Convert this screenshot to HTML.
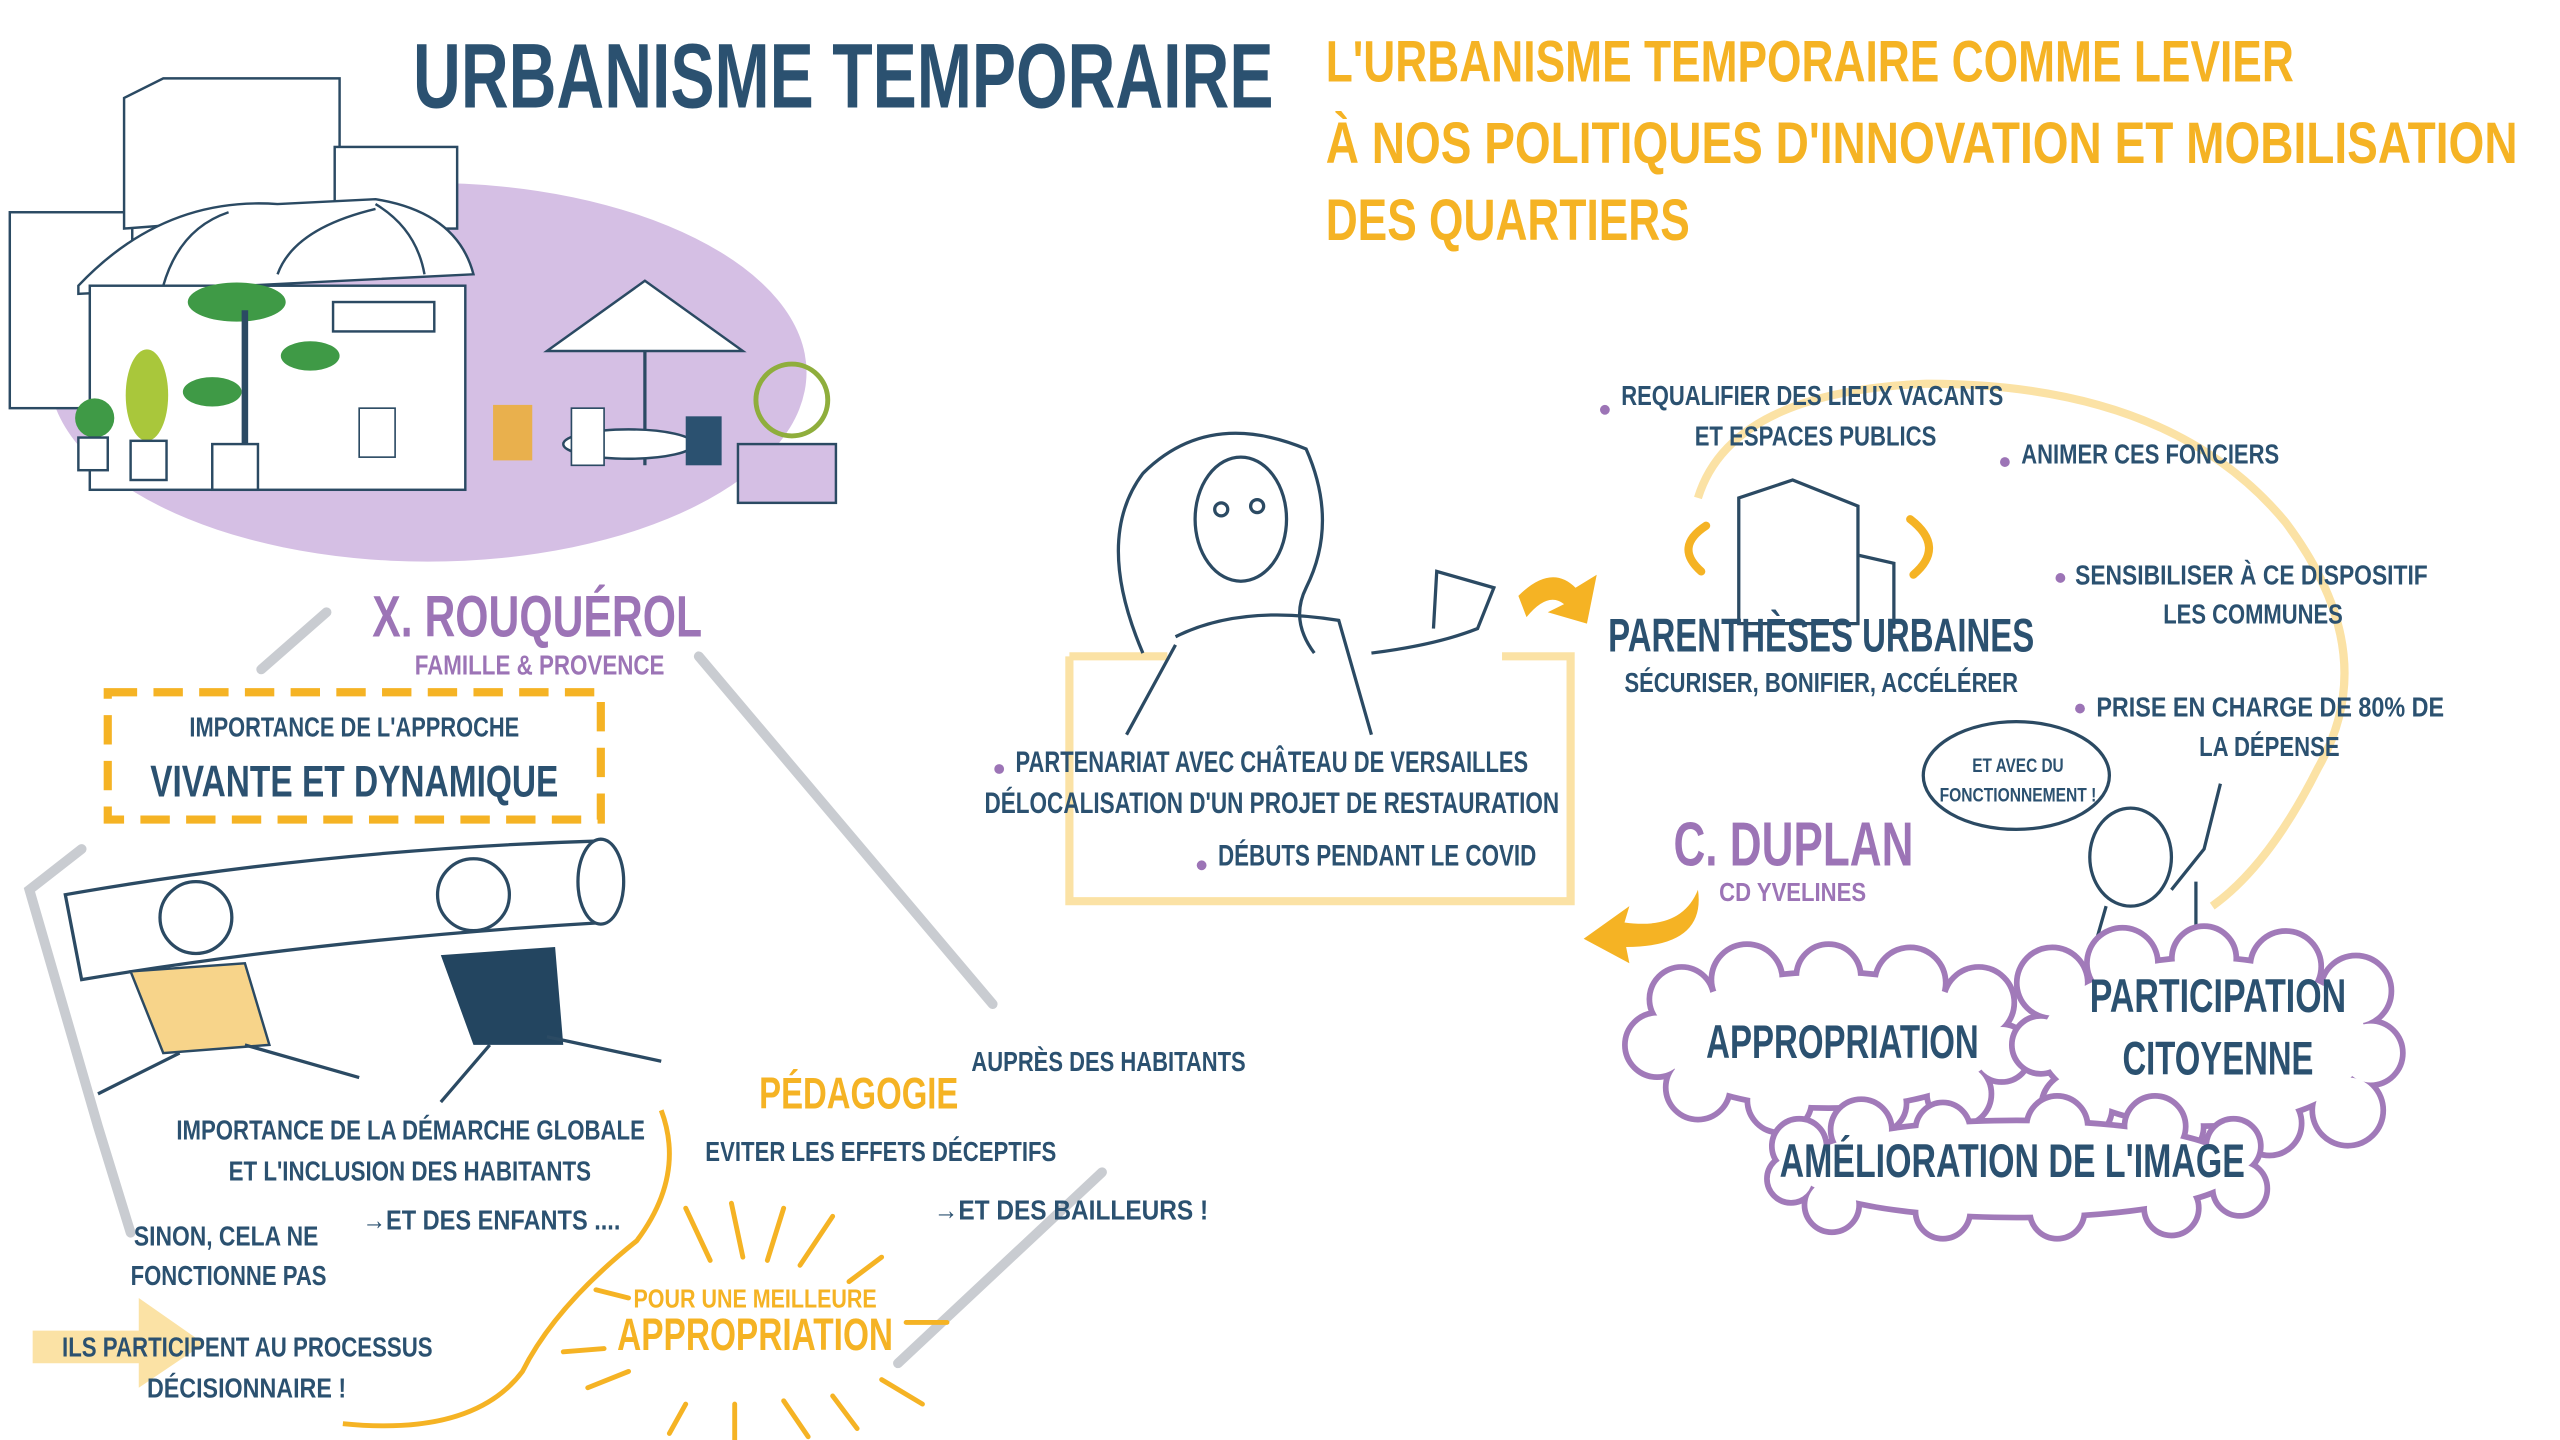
<!DOCTYPE html>
<html><head><meta charset="utf-8"><style>
html,body{margin:0;padding:0;background:#fff;}
svg{display:block}
text{font-family:"Liberation Sans Narrow","Liberation Sans",sans-serif;font-weight:bold;}
.b{fill:#2b5170}.o{fill:#f5b324}.p{fill:#9c74b6}
.cs{stroke:#a17ab9;stroke-width:7;fill:#a17ab9}.cw{fill:#fff}
</style></head><body>
<svg width="2560" height="1440" viewBox="0 0 1568 882" xmlns="http://www.w3.org/2000/svg">
<defs>
<g id="c1"><ellipse cx="1120" cy="637" rx="105" ry="40"/><circle cx="1015" cy="640" r="18"/><circle cx="1030" cy="612" r="18"/><circle cx="1070" cy="600" r="20"/><circle cx="1120" cy="598" r="18"/><circle cx="1170" cy="602" r="20"/><circle cx="1212" cy="614" r="20"/><circle cx="1226" cy="645" r="16"/><circle cx="1200" cy="670" r="18"/><circle cx="1150" cy="676" r="16"/><circle cx="1090" cy="674" r="18"/><circle cx="1040" cy="666" r="18"/></g>
<g id="c2"><ellipse cx="1350" cy="638" rx="100" ry="50"/><circle cx="1257" cy="602" r="20"/><circle cx="1300" cy="590" r="20"/><circle cx="1350" cy="587" r="18"/><circle cx="1400" cy="592" r="20"/><circle cx="1443" cy="607" r="20"/><circle cx="1452" cy="645" r="18"/><circle cx="1438" cy="680" r="20"/><circle cx="1390" cy="688" r="18"/><circle cx="1330" cy="690" r="18"/><circle cx="1272" cy="678" r="20"/><circle cx="1250" cy="640" r="16"/></g>
<g id="c3"><ellipse cx="1235" cy="716" rx="135" ry="28"/><circle cx="1102" cy="702" r="15"/><circle cx="1140" cy="692" r="17"/><circle cx="1190" cy="692" r="15"/><circle cx="1260" cy="690" r="17"/><circle cx="1320" cy="690" r="17"/><circle cx="1368" cy="702" r="15"/><circle cx="1372" cy="728" r="15"/><circle cx="1330" cy="740" r="15"/><circle cx="1260" cy="742" r="15"/><circle cx="1190" cy="742" r="15"/><circle cx="1122" cy="738" r="15"/><circle cx="1097" cy="722" r="13"/></g>
</defs>
<rect width="1568" height="882" fill="#fff"/>
<!-- top-left illustration -->
<ellipse cx="262" cy="228" rx="232" ry="116" fill="#d5bfe4"/>
<g fill="#fff" stroke="#2b4a63" stroke-width="1.5">
<rect x="6" y="130" width="75" height="120"/>
<path d="M76 60 L100 48 L208 48 L208 130 L76 140 Z"/>
<rect x="205" y="90" width="75" height="50"/>
<path d="M48 175 Q100 120 170 125 L230 122 Q280 130 290 168 L48 180 Z"/>
<rect x="55" y="175" width="230" height="125"/>
</g>
<g fill="none" stroke="#2b4a63" stroke-width="1.5">
<path d="M100 175 Q110 140 140 130 M170 168 Q180 140 230 128 M260 168 Q255 140 230 125"/>
<rect x="204" y="185" width="62" height="18"/>
</g>
<g fill="#3f9a46"><ellipse cx="145" cy="185" rx="30" ry="12"/><ellipse cx="190" cy="218" rx="18" ry="9"/><ellipse cx="130" cy="240" rx="18" ry="9"/></g>
<path d="M150 190 L150 275" stroke="#2b4a63" stroke-width="4"/>
<ellipse cx="90" cy="242" rx="13" ry="28" fill="#a9c73b"/>
<circle cx="58" cy="256" r="12" fill="#3f9a46"/>
<g fill="#fff" stroke="#2b4a63" stroke-width="1.5"><rect x="48" y="268" width="18" height="20"/><rect x="80" y="270" width="22" height="24"/><rect x="130" y="272" width="28" height="28"/></g>
<path d="M335 215 L395 172 L455 215 Z" fill="#fff" stroke="#2b4a63" stroke-width="1.5"/>
<path d="M395 215 L395 285" stroke="#2b4a63" stroke-width="2"/>
<ellipse cx="385" cy="272" rx="40" ry="9" fill="#fff" stroke="#2b4a63" stroke-width="1.5"/>
<rect x="302" y="248" width="24" height="34" fill="#e9b04d"/>
<rect x="350" y="250" width="20" height="35" fill="#fff" stroke="#2b4a63"/>
<rect x="420" y="255" width="22" height="30" fill="#2b5170"/>
<rect x="220" y="250" width="22" height="30" fill="#fff" stroke="#2b4a63"/>
<rect x="452" y="272" width="60" height="36" fill="#d5bfe4" stroke="#2b4a63" stroke-width="1.5"/>
<circle cx="485" cy="245" r="22" fill="none" stroke="#8fae3c" stroke-width="3"/>
<!-- title -->
<text x="253" y="66" class="b" font-size="56" textLength="527" lengthAdjust="spacingAndGlyphs">URBANISME TEMPORAIRE</text>
<text x="812" y="50" class="o" font-size="36" textLength="593" lengthAdjust="spacingAndGlyphs">L'URBANISME TEMPORAIRE COMME LEVIER</text>
<text x="812" y="100" class="o" font-size="36" textLength="730" lengthAdjust="spacingAndGlyphs">À NOS POLITIQUES D'INNOVATION ET MOBILISATION</text>
<text x="812" y="147" class="o" font-size="36" textLength="223" lengthAdjust="spacingAndGlyphs">DES QUARTIERS</text>
<!-- left section -->
<g stroke="#c9ccd1" stroke-width="6" fill="none" stroke-linecap="round">
<path d="M200 375 L160 410"/><path d="M428 402 L608 615"/>
<path d="M50 520 L18 545 L60 690 L80 755"/><path d="M675 718 L550 835"/>
</g>
<text x="228" y="390" class="p" font-size="36" textLength="202" lengthAdjust="spacingAndGlyphs">X. ROUQUÉROL</text>
<text x="254" y="413" class="p" font-size="17" textLength="153" lengthAdjust="spacingAndGlyphs">FAMILLE &amp; PROVENCE</text>
<rect x="66" y="424" width="302" height="78" fill="none" stroke="#f5b324" stroke-width="5" stroke-dasharray="18 10"/>
<text x="116" y="451" class="b" font-size="17" textLength="202" lengthAdjust="spacingAndGlyphs">IMPORTANCE DE L'APPROCHE</text>
<text x="92" y="488" class="b" font-size="27" textLength="250" lengthAdjust="spacingAndGlyphs">VIVANTE ET DYNAMIQUE</text>
<!-- log carriers -->
<path d="M40 548 Q200 520 370 515 Q385 540 370 565 Q200 575 50 600 Z" fill="#fff" stroke="#2b4a63" stroke-width="2"/>
<ellipse cx="368" cy="540" rx="14" ry="26" fill="#fff" stroke="#2b4a63" stroke-width="2"/>
<path d="M80 595 L150 590 L165 640 L100 645 Z" fill="#f7d48a" stroke="#2b4a63" stroke-width="1.5"/>
<circle cx="120" cy="562" r="22" fill="#fff" stroke="#2b4a63" stroke-width="2"/>
<path d="M270 585 L340 580 L345 640 L290 640 Z" fill="#234560"/>
<circle cx="290" cy="548" r="22" fill="#fff" stroke="#2b4a63" stroke-width="2"/>
<path d="M110 645 L60 670 M150 640 L220 660 M300 640 L270 675 M335 635 L405 650" stroke="#2b4a63" stroke-width="2" fill="none"/>
<text x="108" y="698" class="b" font-size="17" textLength="287" lengthAdjust="spacingAndGlyphs">IMPORTANCE DE LA DÉMARCHE GLOBALE</text>
<text x="140" y="723" class="b" font-size="17" textLength="222" lengthAdjust="spacingAndGlyphs">ET L'INCLUSION DES HABITANTS</text>
<text x="222" y="753" class="b" font-size="17" textLength="158" lengthAdjust="spacingAndGlyphs">→ET DES ENFANTS ....</text>
<text x="82" y="763" class="b" font-size="17" textLength="113" lengthAdjust="spacingAndGlyphs">SINON, CELA NE</text>
<text x="80" y="787" class="b" font-size="17" textLength="120" lengthAdjust="spacingAndGlyphs">FONCTIONNE PAS</text>
<path d="M20 815 L85 815 L85 795 L125 823 L85 850 L85 835 L20 835 Z" fill="#fbe2a5"/>
<text x="38" y="831" class="b" font-size="17" textLength="227" lengthAdjust="spacingAndGlyphs">ILS PARTICIPENT AU PROCESSUS</text>
<text x="90" y="856" class="b" font-size="17" textLength="122" lengthAdjust="spacingAndGlyphs">DÉCISIONNAIRE !</text>
<path d="M405 680 Q420 720 390 760 Q340 800 320 840 Q290 880 210 872" fill="none" stroke="#f5b324" stroke-width="3"/>
<text x="465" y="679" class="o" font-size="27" textLength="122" lengthAdjust="spacingAndGlyphs">PÉDAGOGIE</text>
<text x="595" y="656" class="b" font-size="17" textLength="168" lengthAdjust="spacingAndGlyphs">AUPRÈS DES HABITANTS</text>
<text x="432" y="711" class="b" font-size="17" textLength="215" lengthAdjust="spacingAndGlyphs">EVITER LES EFFETS DÉCEPTIFS</text>
<text x="572" y="747" class="b" font-size="17" textLength="168" lengthAdjust="spacingAndGlyphs">→ET DES BAILLEURS !</text>
<g stroke="#f5b324" stroke-width="3" stroke-linecap="round">
<path d="M448 737 L455 770 M420 740 L435 772 M480 740 L470 772 M510 745 L490 775 M540 770 L520 785 M365 790 L385 795 M555 810 L580 810 M345 828 L370 826 M360 850 L385 840 M540 845 L565 860 M420 860 L410 878 M450 860 L450 882 M480 858 L495 880 M510 855 L525 875"/>
</g>
<text x="388" y="801" class="o" font-size="16" textLength="149" lengthAdjust="spacingAndGlyphs">POUR UNE MEILLEURE</text>
<text x="378" y="827" class="o" font-size="28" textLength="169" lengthAdjust="spacingAndGlyphs">APPROPRIATION</text>
<!-- center -->
<path d="M655 402 L655 552 L962 552 L962 402 L920 402 M655 402 L715 402" fill="none" stroke="#fbe2a5" stroke-width="5"/>
<g fill="none" stroke="#2b4a63" stroke-width="2">
<path d="M700 400 Q670 330 700 290 Q740 250 800 275 Q820 320 800 360 Q790 380 805 400"/>
<ellipse cx="760" cy="318" rx="28" ry="38"/>
<path d="M720 390 Q760 370 820 380 L840 450 M720 395 L690 450 M840 400 Q880 395 905 385 L915 360 L880 350 L878 385"/>
<circle cx="748" cy="312" r="4"/><circle cx="770" cy="310" r="4"/>
</g>
<path d="M930 365 Q950 345 965 360 L978 352 L972 382 L948 375 L958 370 Q948 362 935 378 Z" fill="#f5b324"/>
<path d="M1040 545 Q1030 570 995 565 L998 555 L970 575 L998 590 L996 580 Q1045 580 1040 545 Z" fill="#f5b324"/>
<circle cx="612" cy="471" r="3" fill="#9c74b6"/><circle cx="736" cy="530" r="3" fill="#9c74b6"/>
<text x="622" y="473" class="b" font-size="18" textLength="314" lengthAdjust="spacingAndGlyphs">PARTENARIAT AVEC CHÂTEAU DE VERSAILLES</text>
<text x="603" y="498" class="b" font-size="18" textLength="352" lengthAdjust="spacingAndGlyphs">DÉLOCALISATION D'UN PROJET DE RESTAURATION</text>
<text x="746" y="530" class="b" font-size="18" textLength="195" lengthAdjust="spacingAndGlyphs">DÉBUTS PENDANT LE COVID</text>
<!-- right -->
<path d="M1040 305 Q1060 240 1180 235 Q1330 235 1400 320 Q1460 400 1420 470 Q1390 530 1355 555" fill="none" stroke="#fbe2a5" stroke-width="5"/>
<path d="M1065 305 L1098 294 L1138 310 L1138 382 L1065 382 Z M1138 340 L1160 345 L1160 385" fill="#fff" stroke="#2b4a63" stroke-width="2"/>
<path d="M1045 322 Q1025 335 1042 350 M1170 318 Q1192 335 1172 352" fill="none" stroke="#f5b324" stroke-width="5" stroke-linecap="round"/>
<g fill="#9c74b6"><circle cx="983" cy="251" r="3"/><circle cx="1228" cy="283" r="3"/><circle cx="1262" cy="354" r="3"/><circle cx="1274" cy="434" r="3"/></g>
<text x="993" y="248" class="b" font-size="17" textLength="234" lengthAdjust="spacingAndGlyphs">REQUALIFIER DES LIEUX VACANTS</text>
<text x="1038" y="273" class="b" font-size="17" textLength="148" lengthAdjust="spacingAndGlyphs">ET ESPACES PUBLICS</text>
<text x="1238" y="284" class="b" font-size="17" textLength="158" lengthAdjust="spacingAndGlyphs">ANIMER CES FONCIERS</text>
<text x="1271" y="358" class="b" font-size="17" textLength="216" lengthAdjust="spacingAndGlyphs">SENSIBILISER À CE DISPOSITIF</text>
<text x="1325" y="382" class="b" font-size="17" textLength="110" lengthAdjust="spacingAndGlyphs">LES COMMUNES</text>
<text x="1284" y="439" class="b" font-size="17" textLength="213" lengthAdjust="spacingAndGlyphs">PRISE EN CHARGE DE 80% DE</text>
<text x="1347" y="463" class="b" font-size="17" textLength="86" lengthAdjust="spacingAndGlyphs">LA DÉPENSE</text>
<text x="985" y="399" class="b" font-size="29" textLength="261" lengthAdjust="spacingAndGlyphs">PARENTHÈSES URBAINES</text>
<text x="995" y="424" class="b" font-size="17" textLength="241" lengthAdjust="spacingAndGlyphs">SÉCURISER, BONIFIER, ACCÉLÉRER</text>
<text x="1025" y="530" class="p" font-size="38" textLength="147" lengthAdjust="spacingAndGlyphs">C. DUPLAN</text>
<text x="1053" y="552" class="p" font-size="16" textLength="90" lengthAdjust="spacingAndGlyphs">CD YVELINES</text>
<ellipse cx="1235" cy="475" rx="57" ry="33" fill="#fff" stroke="#2b4a63" stroke-width="2"/>
<text x="1208" y="473" class="b" font-size="12" textLength="56" lengthAdjust="spacingAndGlyphs">ET AVEC DU</text>
<text x="1188" y="491" class="b" font-size="12" textLength="96" lengthAdjust="spacingAndGlyphs">FONCTIONNEMENT !</text>
<g fill="none" stroke="#2b4a63" stroke-width="2">
<ellipse cx="1305" cy="525" rx="25" ry="30"/>
<path d="M1290 555 L1280 590 M1330 545 L1350 520 L1360 480 M1345 540 L1345 590"/>
</g>
<!-- clouds -->
<use href="#c1" class="cs"/><use href="#c1" class="cw"/>
<use href="#c2" class="cs"/><use href="#c2" class="cw"/>
<use href="#c3" class="cs"/><use href="#c3" class="cw"/>
<text x="1045" y="648" class="b" font-size="29" textLength="167" lengthAdjust="spacingAndGlyphs">APPROPRIATION</text>
<text x="1280" y="620" class="b" font-size="29" textLength="157" lengthAdjust="spacingAndGlyphs">PARTICIPATION</text>
<text x="1300" y="658" class="b" font-size="29" textLength="117" lengthAdjust="spacingAndGlyphs">CITOYENNE</text>
<text x="1090" y="721" class="b" font-size="29" textLength="285" lengthAdjust="spacingAndGlyphs">AMÉLIORATION DE L'IMAGE</text>
</svg>
</body></html>
